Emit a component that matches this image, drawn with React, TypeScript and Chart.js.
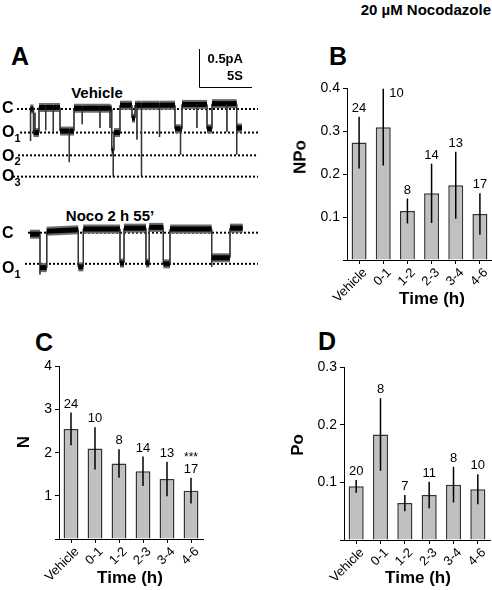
import React, { useEffect, useRef } from 'react';
import { Chart, registerables } from 'chart.js';

Chart.register(...registerables);

const FONT = '"Liberation Sans", Arial, Helvetica, sans-serif';

// ---------- Bar chart data ----------
const categories = ['Vehicle', '0-1', '1-2', '2-3', '3-4', '4-6'];

const npoMean = [0.273, 0.309, 0.114, 0.155, 0.174, 0.107];
const npoErr = [0.06, 0.089, 0.029, 0.069, 0.078, 0.048];
const npoN = [24, 10, 8, 14, 13, 17];

const nMean = [2.55, 2.1, 1.75, 1.57, 1.39, 1.12];
const nErr = [0.38, 0.49, 0.33, 0.34, 0.4, 0.3];
const nN = [24, 10, 8, 14, 13, 17];
const nSig = ['', '', '', '', '', '***'];

const poMean = [0.093, 0.183, 0.064, 0.078, 0.096, 0.088];
const poErr = [0.011, 0.063, 0.014, 0.023, 0.031, 0.026];
const poN = [20, 8, 7, 11, 8, 10];

// ---------- Single-channel traces (time in s, current in pA) ----------
const vehT = [
  0.0, 0.05, 0.05, 0.05, 0.33, 0.33, 0.47, 0.47, 0.47, 0.85, 0.85, 1.48, 1.48, 1.48,
  2.2, 2.2, 2.2, 2.83, 2.83, 3.71, 3.71, 3.71, 4.15, 4.15, 4.93, 4.93, 4.93, 6.6, 6.6,
  6.6, 7.55, 7.55, 7.55, 7.71, 7.71, 7.86, 7.86, 7.86, 7.92, 7.92, 8.49, 8.49, 9.62,
  9.62, 9.91, 9.91, 10.09, 10.09, 10.09, 10.52, 10.52, 10.52, 12.22, 12.22, 12.22,
  13.68, 13.68, 14.2, 14.2, 14.2, 14.34, 14.34, 15.75, 15.75, 15.75, 16.7, 16.7, 17.17,
  17.17, 18.58, 18.58, 18.58, 19.5, 19.5, 19.5, 20.0,
];
const vehI = [
  0.0, 0.0, -0.42, 0.0, 0.0, -0.31, -0.31, -0.05, -0.31, -0.31, 0.02, 0.02, -0.28, 0.02,
  0.02, -0.3, 0.02, 0.02, -0.29, -0.29, -0.7, -0.29, -0.29, 0.01, 0.01, -0.2, 0.01, 0.01, -0.25,
  0.01, 0.01, -0.25, 0.0, 0.0, -0.55, -0.55, -0.89, -0.55, -0.55, -0.31, -0.31, 0.05, 0.05,
  -0.12, -0.12, 0.05, 0.05, -0.4, 0.05, 0.05, -0.89, 0.05, 0.05, -0.37, 0.05,
  0.05, -0.26, -0.26, -0.6, -0.26, -0.26, 0.06, 0.06, -0.25, 0.06, 0.06, -0.26, -0.26,
  0.07, 0.07, -0.3, 0.07, 0.07, -0.6, -0.25, -0.25,
];

const nocoT = [
  0.0, 0.94, 0.94, 0.94, 1.58, 1.58, 4.56, 4.56, 5.03, 5.03, 8.49, 8.49, 8.87, 8.87,
  10.94, 10.94, 11.25, 11.25, 12.58, 12.58, 13.21, 13.21, 17.14, 17.14, 17.14, 18.87,
  18.87, 20.07,
];
const nocoI = [
  -0.02, -0.02, -0.55, -0.46, -0.46, 0.02, 0.04, -0.45, -0.45, 0.05, 0.05, -0.4, -0.4, 0.06,
  0.06, -0.4, -0.4, 0.07, 0.07, -0.41, -0.41, 0.05, 0.05, -0.45, -0.33, -0.33,
  0.06, 0.06,
];

// current levels (pA) and labels
const vehLevels = [0, -0.31, -0.61, -0.89];
const vehLevelNames = ['C', 'O1', 'O2', 'O3'];
const vehLevelStart = [-1.23, -0.94, -1.13, -1.6];
const nocoLevels = [0, -0.41];
const nocoLevelNames = ['C', 'O1'];
const nocoLevelStart = [-0.19, -0.47];
const levelEnd = 21.51;

// scale bar: 0.5 pA, 5 s
const scaleAmp = 0.5;
const scaleTime = 5;

const X_MIN = -2.83;
const X_MAX = 21.7;

type TraceProps = {
  left: number; top: number; width: number; height: number;
  t: number[]; i: number[]; levels: number[]; names: string[]; starts: number[];
  labelDy: number[]; yMin: number; yMax: number; scaleBar?: { t: number; i: number };
};

function TraceChart(p: TraceProps) {
  const ref = useRef<HTMLCanvasElement>(null);
  useEffect(() => {
    const traceData = p.t.map((x, k) => ({ x, y: p.i[k] }));
    const levelSets = p.levels.map((lv, k) => ({
      data: [{ x: p.starts[k], y: lv }, { x: levelEnd, y: lv }],
      borderColor: '#000',
      borderWidth: 2,
      borderDash: [2, 2],
      pointRadius: 0,
      showLine: true,
      clip: false as any,
    }));
    const isVert = (c: any) => Math.abs(c.p0.x - c.p1.x) < 0.5;
    const overlay = {
      id: 'traceOverlay',
      afterDraw(chart: any) {
        const ctx = chart.ctx;
        const ys = chart.scales.y;
        const xs = chart.scales.x;
        ctx.save();
        ctx.fillStyle = '#000';
        ctx.textBaseline = 'middle';
        ctx.textAlign = 'left';
        p.names.forEach((nm, k) => {
          const y = ys.getPixelForValue(p.levels[k]) + (p.labelDy[k] || 0);
          ctx.font = `bold 16px ${FONT}`;
          const main = nm[0];
          ctx.fillText(main, 2, y);
          if (nm.length > 1) {
            const w = ctx.measureText(main).width;
            ctx.font = `bold 11px ${FONT}`;
            ctx.fillText(nm.slice(1), 2 + w, y + 6);
          }
        });
        if (p.scaleBar) {
          const x0 = xs.getPixelForValue(p.scaleBar.t);
          const x1 = xs.getPixelForValue(p.scaleBar.t + scaleTime);
          const y0 = ys.getPixelForValue(p.scaleBar.i);
          const y1 = ys.getPixelForValue(p.scaleBar.i + scaleAmp);
          ctx.strokeStyle = '#000';
          ctx.lineWidth = 1;
          ctx.beginPath();
          ctx.moveTo(Math.round(x0) + 0.5, y1);
          ctx.lineTo(Math.round(x0) + 0.5, Math.round(y0) + 0.5);
          ctx.lineTo(x1, Math.round(y0) + 0.5);
          ctx.stroke();
          ctx.font = `bold 13px ${FONT}`;
          ctx.textAlign = 'right';
          ctx.fillText(`${scaleAmp}pA`, x1 - 9, y1 + 10);
          ctx.fillText(`${scaleTime}S`, x1 - 9, y0 - 11);
        }
        ctx.restore();
      },
    };
    const chart = new Chart(ref.current as HTMLCanvasElement, {
      type: 'scatter',
      data: {
        datasets: [
          {
            data: traceData,
            showLine: true,
            pointRadius: 0,
            borderColor: '#000',
            borderWidth: 5,
            clip: false as any,
            segment: {
              borderWidth: (c: any) => (isVert(c) ? 1.3 : 5),
              borderColor: (c: any) => (isVert(c) ? '#333' : '#000'),
            },
          } as any,
          {
            data: traceData,
            showLine: true,
            pointRadius: 0,
            borderColor: '#777',
            borderWidth: 9,
            clip: false as any,
            segment: {
              borderWidth: (c: any) => (isVert(c) ? 1.3 : 9),
              borderColor: (c: any) => (isVert(c) ? '#555' : '#6a6a6a'),
            },
          } as any,
          ...levelSets,
        ],
      },
      options: {
        animation: false,
        responsive: false,
        maintainAspectRatio: false,
        events: [],
        layout: { padding: 0 },
        plugins: { legend: { display: false }, tooltip: { enabled: false } },
        scales: {
          x: { type: 'linear', display: false, min: X_MIN, max: X_MAX },
          y: { type: 'linear', display: false, min: p.yMin, max: p.yMax },
        },
      },
      plugins: [overlay],
    });
    return () => chart.destroy();
  }, []);
  return (
    <canvas
      ref={ref}
      width={p.width}
      height={p.height}
      style={{ position: 'absolute', left: p.left, top: p.top, width: p.width, height: p.height }}
    />
  );
}

type BarProps = {
  left: number; top: number; width: number; height: number;
  means: number[]; errs: number[]; ns: number[]; sig?: string[];
  yMax: number; step: number; decimals: number;
  yAxisWidth: number; xAxisHeight: number; padTop: number; padRight: number;
};

function BarPanel(p: BarProps) {
  const ref = useRef<HTMLCanvasElement>(null);
  useEffect(() => {
    const errPlugin = {
      id: 'errN',
      afterDatasetsDraw(chart: any) {
        const ctx = chart.ctx;
        const ys = chart.scales.y;
        const meta = chart.getDatasetMeta(0);
        const area = chart.chartArea;
        ctx.save();
        meta.data.forEach((bar: any, k: number) => {
          const x = bar.x;
          const yT = ys.getPixelForValue(p.means[k] + p.errs[k]);
          const yB = ys.getPixelForValue(p.means[k] - p.errs[k]);
          ctx.strokeStyle = '#000';
          ctx.lineWidth = 1.5;
          ctx.beginPath();
          ctx.moveTo(x, yT);
          ctx.lineTo(x, yB);
          ctx.stroke();
          ctx.fillStyle = '#000';
          ctx.font = `13px ${FONT}`;
          const label = String(p.ns[k]);
          if (yT - 18 < area.top) {
            ctx.textAlign = 'left';
            ctx.textBaseline = 'middle';
            ctx.fillText(label, x + 6, yT + 5);
          } else {
            ctx.textAlign = 'center';
            ctx.textBaseline = 'alphabetic';
            ctx.fillText(label, x, yT - 5);
            if (p.sig && p.sig[k]) {
              ctx.font = `12px ${FONT}`;
              ctx.fillText(p.sig[k], x, yT - 17);
            }
          }
        });
        ctx.restore();
      },
    };
    const chart = new Chart(ref.current as HTMLCanvasElement, {
      type: 'bar',
      data: {
        labels: categories,
        datasets: [
          {
            data: p.means,
            backgroundColor: '#c0c0c0',
            borderColor: '#333',
            borderWidth: 1.5,
            barPercentage: 0.62,
            categoryPercentage: 1,
          },
        ],
      },
      options: {
        animation: false,
        responsive: false,
        maintainAspectRatio: false,
        events: [],
        layout: { padding: { top: p.padTop, right: p.padRight, left: 0, bottom: 0 } },
        plugins: { legend: { display: false }, tooltip: { enabled: false } },
        scales: {
          x: {
            type: 'category',
            offset: true,
            grid: {
              display: true,
              drawOnChartArea: false,
              drawTicks: true,
              tickLength: 4,
              color: '#000',
              offset: false,
            },
            border: { display: true, color: '#000', width: 1 },
            ticks: {
              color: '#000',
              font: { size: 13, family: FONT },
              minRotation: 45,
              maxRotation: 45,
              padding: 1,
              labelOffset: 6,
              autoSkip: false,
            },
            afterFit: (s: any) => {
              s.height = p.xAxisHeight;
            },
          },
          y: {
            type: 'linear',
            min: 0,
            max: p.yMax,
            grid: { display: true, drawOnChartArea: false, drawTicks: true, tickLength: 4, color: '#000' },
            border: { display: true, color: '#000', width: 1 },
            ticks: {
              stepSize: p.step,
              color: '#000',
              font: { size: 14, family: FONT },
              padding: 3,
              callback: (v: any) => (Number(v) === 0 ? '' : Number(v).toFixed(p.decimals)),
            },
            afterFit: (s: any) => {
              s.width = p.yAxisWidth;
            },
          },
        },
      },
      plugins: [errPlugin],
    });
    return () => chart.destroy();
  }, []);
  return (
    <canvas
      ref={ref}
      width={p.width}
      height={p.height}
      style={{ position: 'absolute', left: p.left, top: p.top, width: p.width, height: p.height }}
    />
  );
}

function Txt(props: { x: number; y: number; size: number; text: string; rotate?: boolean; bold?: boolean; anchor?: 'center' | 'right' }) {
  const { x, y, size, text, rotate, anchor } = props;
  const tx = anchor === 'right' ? '-100%' : '-50%';
  return (
    <div
      style={{
        position: 'absolute',
        left: x,
        top: y,
        transform: `translate(${tx}, -50%)${rotate ? ' rotate(-90deg)' : ''}`,
        fontFamily: FONT,
        fontWeight: props.bold === false ? 'normal' : 'bold',
        fontSize: size,
        lineHeight: 1,
        whiteSpace: 'nowrap',
        color: '#000',
      }}
    >
      {text}
    </div>
  );
}

export default function App() {
  return (
    <div
      style={{
        position: 'absolute',
        left: 0,
        top: 0,
        width: 492,
        height: 590,
        background: '#fff',
        overflow: 'hidden',
      }}
    >
      <Txt x={491} y={9} size={15} text="20 µM Nocodazole" anchor="right" />
      <Txt x={20} y={56} size={25} text="A" />
      <Txt x={338} y={56} size={25} text="B" />
      <Txt x={44} y={342} size={25} text="C" />
      <Txt x={327} y={341} size={25} text="D" />
      <Txt x={97} y={92} size={15} text="Vehicle" />
      <Txt x={110} y={215} size={15} text="Noco 2 h 55’" />

      <TraceChart
        left={0}
        top={40}
        width={260}
        height={150}
        t={vehT}
        i={vehI}
        levels={vehLevels}
        names={vehLevelNames}
        starts={vehLevelStart}
        labelDy={[0, 0, 1, 0]}
        yMin={-1.066}
        yMax={0.908}
        scaleBar={{ t: 15.94, i: 0.29 }}
      />
      <TraceChart
        left={0}
        top={190}
        width={260}
        height={110}
        t={nocoT}
        i={nocoI}
        levels={nocoLevels}
        names={nocoLevelNames}
        starts={nocoLevelStart}
        labelDy={[1, 5]}
        yMin={-0.886}
        yMax={0.562}
      />

      <BarPanel
        left={260}
        top={70}
        width={232}
        height={240}
        means={npoMean}
        errs={npoErr}
        ns={npoN}
        yMax={0.4}
        step={0.1}
        decimals={1}
        yAxisWidth={87}
        xAxisHeight={50}
        padTop={18}
        padRight={0}
      />
      <BarPanel
        left={0}
        top={355}
        width={245}
        height={235}
        means={nMean}
        errs={nErr}
        ns={nN}
        sig={nSig}
        yMax={4}
        step={1}
        decimals={0}
        yAxisWidth={59}
        xAxisHeight={51}
        padTop={11}
        padRight={42}
      />
      <BarPanel
        left={245}
        top={355}
        width={247}
        height={235}
        means={poMean}
        errs={poErr}
        ns={poN}
        yMax={0.3}
        step={0.1}
        decimals={1}
        yAxisWidth={99}
        xAxisHeight={50}
        padTop={12}
        padRight={2}
      />

      <Txt x={300} y={157} size={17} text="NPo" rotate />
      <Txt x={23} y={442} size={17} text="N" rotate />
      <Txt x={297} y={445} size={17} text="Po" rotate />
      <Txt x={432} y={298} size={17} text="Time (h)" />
      <Txt x={130} y={577} size={17} text="Time (h)" />
      <Txt x={418} y={577} size={17} text="Time (h)" />
    </div>
  );
}
